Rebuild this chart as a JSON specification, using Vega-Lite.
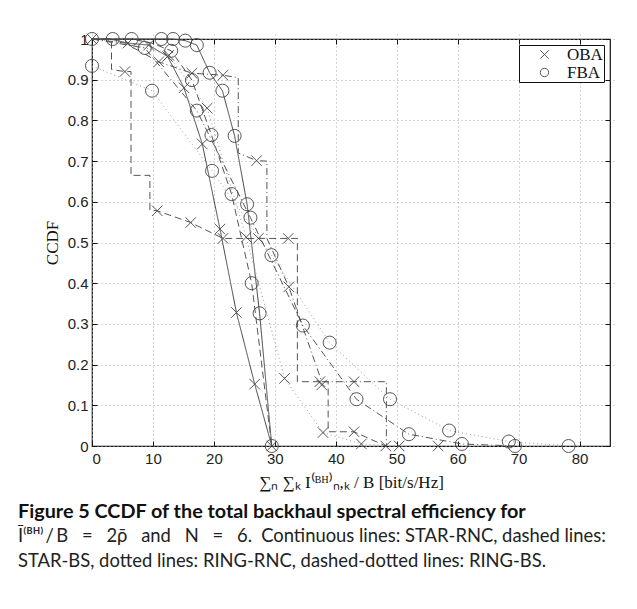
{
  "$schema": "https://vega.github.io/schema/vega-lite/v6.json",
  "autosize": "none",
  "width": 518,
  "height": 407,
  "padding": {"left": 92, "top": 39, "right": 27, "bottom": 163},
  "background": "white",
  "title": {
    "text": "Figure 5 CCDF of the total backhaul spectral efficiency for",
    "subtitle": ["Ī⁽ᴮᴴ⁾\u2009/\u2009B\u2003=\u20032ρ̄\u2003and\u2003N\u2003=\u20036.\u2002Continuous lines: STAR-RNC, dashed lines:", "STAR-BS, dotted lines: RING-RNC, dashed-dotted lines: RING-BS."],
    "orient": "bottom",
    "anchor": "start",
    "frame": "group",
    "dx": -74,
    "offset": 12,
    "font": "Lato",
    "fontSize": 19.8,
    "fontWeight": "bold",
    "color": "#111",
    "subtitleFont": "Lato",
    "subtitleFontSize": 18.4,
    "subtitleFontWeight": "normal",
    "subtitleColor": "#222",
    "subtitlePadding": 5,
    "subtitleLineHeight": 25
  },
  "config": {
    "view": {"stroke": "#111", "strokeWidth": 1.2},
    "axis": {
      "labelFont": "Liberation Sans",
      "labelFontSize": 15,
      "labelColor": "#222",
      "titleFont": "Liberation Serif",
      "titleFontSize": 17,
      "titleFontWeight": "normal",
      "titleColor": "#111",
      "gridColor": "#aaa",
      "gridDash": [1, 3],
      "gridWidth": 1,
      "tickColor": "#111",
      "tickSize": 5,
      "offset": -5,
      "domain": false
    }
  },
  "datasets": {
    "lines": [
      {"s": "STAR-RNC OBA", "style": "solid", "i": 0, "x": 0, "y": 1},
      {"s": "STAR-RNC OBA", "style": "solid", "i": 1, "x": 2.95, "y": 1},
      {"s": "STAR-RNC OBA", "style": "solid", "i": 2, "x": 5.9, "y": 0.99},
      {"s": "STAR-RNC OBA", "style": "solid", "i": 3, "x": 9.3, "y": 0.985},
      {"s": "STAR-RNC OBA", "style": "solid", "i": 4, "x": 12.4, "y": 0.957},
      {"s": "STAR-RNC OBA", "style": "solid", "i": 5, "x": 15.1, "y": 0.88},
      {"s": "STAR-RNC OBA", "style": "solid", "i": 6, "x": 18.1, "y": 0.742},
      {"s": "STAR-RNC OBA", "style": "solid", "i": 7, "x": 21.0, "y": 0.533},
      {"s": "STAR-RNC OBA", "style": "solid", "i": 8, "x": 23.7, "y": 0.328},
      {"s": "STAR-RNC OBA", "style": "solid", "i": 9, "x": 26.7, "y": 0.152},
      {"s": "STAR-RNC OBA", "style": "solid", "i": 10, "x": 29.5, "y": 0},

      {"s": "STAR-RNC FBA", "style": "solid", "i": 0, "x": 0, "y": 1},
      {"s": "STAR-RNC FBA", "style": "solid", "i": 1, "x": 11.4, "y": 1},
      {"s": "STAR-RNC FBA", "style": "solid", "i": 2, "x": 13.3, "y": 1},
      {"s": "STAR-RNC FBA", "style": "solid", "i": 3, "x": 15.3, "y": 0.996},
      {"s": "STAR-RNC FBA", "style": "solid", "i": 4, "x": 17.2, "y": 0.985},
      {"s": "STAR-RNC FBA", "style": "solid", "i": 5, "x": 19.3, "y": 0.917},
      {"s": "STAR-RNC FBA", "style": "solid", "i": 6, "x": 21.4, "y": 0.873},
      {"s": "STAR-RNC FBA", "style": "solid", "i": 7, "x": 23.4, "y": 0.762},
      {"s": "STAR-RNC FBA", "style": "solid", "i": 8, "x": 25.45, "y": 0.594},
      {"s": "STAR-RNC FBA", "style": "solid", "i": 9, "x": 27.5, "y": 0.326},
      {"s": "STAR-RNC FBA", "style": "solid", "i": 10, "x": 29.5, "y": 0},

      {"s": "STAR-BS OBA", "style": "dashed", "i": 0, "x": 0, "y": 1},
      {"s": "STAR-BS OBA", "style": "dashed", "i": 1, "x": 3.2, "y": 1},
      {"s": "STAR-BS OBA", "style": "dashed", "i": 2, "x": 3.2, "y": 0.925},
      {"s": "STAR-BS OBA", "style": "dashed", "i": 3, "x": 5.4, "y": 0.92},
      {"s": "STAR-BS OBA", "style": "dashed", "i": 4, "x": 6.4, "y": 0.92},
      {"s": "STAR-BS OBA", "style": "dashed", "i": 5, "x": 6.4, "y": 0.665},
      {"s": "STAR-BS OBA", "style": "dashed", "i": 6, "x": 9.5, "y": 0.665},
      {"s": "STAR-BS OBA", "style": "dashed", "i": 7, "x": 9.5, "y": 0.58},
      {"s": "STAR-BS OBA", "style": "dashed", "i": 8, "x": 10.7, "y": 0.578},
      {"s": "STAR-BS OBA", "style": "dashed", "i": 9, "x": 16.2, "y": 0.549},
      {"s": "STAR-BS OBA", "style": "dashed", "i": 10, "x": 21.5, "y": 0.51},
      {"s": "STAR-BS OBA", "style": "dashed", "i": 11, "x": 27.3, "y": 0.51},
      {"s": "STAR-BS OBA", "style": "dashed", "i": 12, "x": 32.2, "y": 0.51},
      {"s": "STAR-BS OBA", "style": "dashed", "i": 13, "x": 33.7, "y": 0.51},
      {"s": "STAR-BS OBA", "style": "dashed", "i": 14, "x": 33.7, "y": 0.158},
      {"s": "STAR-BS OBA", "style": "dashed", "i": 15, "x": 37.4, "y": 0.158},
      {"s": "STAR-BS OBA", "style": "dashed", "i": 16, "x": 38.75, "y": 0.158},
      {"s": "STAR-BS OBA", "style": "dashed", "i": 17, "x": 38.75, "y": 0.035},
      {"s": "STAR-BS OBA", "style": "dashed", "i": 18, "x": 43.0, "y": 0.035},
      {"s": "STAR-BS OBA", "style": "dashed", "i": 19, "x": 48.2, "y": 0},

      {"s": "STAR-BS FBA", "style": "dashed", "i": 0, "x": 0, "y": 1},
      {"s": "STAR-BS FBA", "style": "dashed", "i": 1, "x": 3.3, "y": 1},
      {"s": "STAR-BS FBA", "style": "dashed", "i": 2, "x": 6.5, "y": 1},
      {"s": "STAR-BS FBA", "style": "dashed", "i": 3, "x": 9.8, "y": 0.99},
      {"s": "STAR-BS FBA", "style": "dashed", "i": 4, "x": 13.0, "y": 0.971},
      {"s": "STAR-BS FBA", "style": "dashed", "i": 5, "x": 16.4, "y": 0.899},
      {"s": "STAR-BS FBA", "style": "dashed", "i": 6, "x": 19.6, "y": 0.764},
      {"s": "STAR-BS FBA", "style": "dashed", "i": 7, "x": 22.9, "y": 0.619},
      {"s": "STAR-BS FBA", "style": "dashed", "i": 8, "x": 26.2, "y": 0.40},
      {"s": "STAR-BS FBA", "style": "dashed", "i": 9, "x": 29.5, "y": 0},

      {"s": "RING-RNC OBA", "style": "dotted", "i": 0, "x": 0, "y": 1},
      {"s": "RING-RNC OBA", "style": "dotted", "i": 1, "x": 6.3, "y": 0.99},
      {"s": "RING-RNC OBA", "style": "dotted", "i": 2, "x": 12.6, "y": 0.96},
      {"s": "RING-RNC OBA", "style": "dotted", "i": 3, "x": 18.9, "y": 0.83},
      {"s": "RING-RNC OBA", "style": "dotted", "i": 4, "x": 25.3, "y": 0.513},
      {"s": "RING-RNC OBA", "style": "dotted", "i": 5, "x": 31.6, "y": 0.166},
      {"s": "RING-RNC OBA", "style": "dotted", "i": 6, "x": 37.9, "y": 0.033},
      {"s": "RING-RNC OBA", "style": "dotted", "i": 7, "x": 44.2, "y": 0.005},
      {"s": "RING-RNC OBA", "style": "dotted", "i": 8, "x": 50.4, "y": 0},
      {"s": "RING-RNC OBA", "style": "dotted", "i": 9, "x": 56.8, "y": 0},

      {"s": "RING-RNC FBA", "style": "dotted", "i": 0, "x": 0, "y": 0.934},
      {"s": "RING-RNC FBA", "style": "dotted", "i": 1, "x": 9.85, "y": 0.873},
      {"s": "RING-RNC FBA", "style": "dotted", "i": 2, "x": 19.7, "y": 0.676},
      {"s": "RING-RNC FBA", "style": "dotted", "i": 3, "x": 29.45, "y": 0.469},
      {"s": "RING-RNC FBA", "style": "dotted", "i": 4, "x": 39.0, "y": 0.254},
      {"s": "RING-RNC FBA", "style": "dotted", "i": 5, "x": 48.9, "y": 0.115},
      {"s": "RING-RNC FBA", "style": "dotted", "i": 6, "x": 58.6, "y": 0.038},
      {"s": "RING-RNC FBA", "style": "dotted", "i": 7, "x": 68.4, "y": 0.011},
      {"s": "RING-RNC FBA", "style": "dotted", "i": 8, "x": 78.2, "y": 0},

      {"s": "RING-BS OBA", "style": "dashdot", "i": 0, "x": 0, "y": 1},
      {"s": "RING-BS OBA", "style": "dashdot", "i": 1, "x": 5.4, "y": 0.99},
      {"s": "RING-BS OBA", "style": "dashdot", "i": 2, "x": 10.95, "y": 0.944},
      {"s": "RING-BS OBA", "style": "dashdot", "i": 3, "x": 16.4, "y": 0.916},
      {"s": "RING-BS OBA", "style": "dashdot", "i": 4, "x": 21.5, "y": 0.911},
      {"s": "RING-BS OBA", "style": "dashdot", "i": 5, "x": 24.0, "y": 0.905},
      {"s": "RING-BS OBA", "style": "dashdot", "i": 6, "x": 24.0, "y": 0.72},
      {"s": "RING-BS OBA", "style": "dashdot", "i": 7, "x": 27.0, "y": 0.701},
      {"s": "RING-BS OBA", "style": "dashdot", "i": 8, "x": 28.7, "y": 0.70},
      {"s": "RING-BS OBA", "style": "dashdot", "i": 9, "x": 28.7, "y": 0.51},
      {"s": "RING-BS OBA", "style": "dashdot", "i": 10, "x": 32.3, "y": 0.391},
      {"s": "RING-BS OBA", "style": "dashdot", "i": 11, "x": 37.7, "y": 0.158},
      {"s": "RING-BS OBA", "style": "dashdot", "i": 12, "x": 43.0, "y": 0.158},
      {"s": "RING-BS OBA", "style": "dashdot", "i": 13, "x": 48.3, "y": 0.158},
      {"s": "RING-BS OBA", "style": "dashdot", "i": 14, "x": 48.3, "y": 0},

      {"s": "RING-BS FBA", "style": "dashdot", "i": 0, "x": 0, "y": 1},
      {"s": "RING-BS FBA", "style": "dashdot", "i": 1, "x": 8.65, "y": 0.978},
      {"s": "RING-BS FBA", "style": "dashdot", "i": 2, "x": 17.2, "y": 0.824},
      {"s": "RING-BS FBA", "style": "dashdot", "i": 3, "x": 26.0, "y": 0.561},
      {"s": "RING-BS FBA", "style": "dashdot", "i": 4, "x": 34.6, "y": 0.296},
      {"s": "RING-BS FBA", "style": "dashdot", "i": 5, "x": 43.4, "y": 0.115},
      {"s": "RING-BS FBA", "style": "dashdot", "i": 6, "x": 52.0, "y": 0.029},
      {"s": "RING-BS FBA", "style": "dashdot", "i": 7, "x": 60.7, "y": 0.005},
      {"s": "RING-BS FBA", "style": "dashdot", "i": 8, "x": 69.4, "y": 0}
    ],
    "marks": [
      {"alloc": "OBA", "x": 0, "y": 1},
      {"alloc": "OBA", "x": 5.9, "y": 0.99},
      {"alloc": "OBA", "x": 9.3, "y": 0.985},
      {"alloc": "OBA", "x": 12.4, "y": 0.957},
      {"alloc": "OBA", "x": 15.1, "y": 0.88},
      {"alloc": "OBA", "x": 18.1, "y": 0.742},
      {"alloc": "OBA", "x": 21.0, "y": 0.533},
      {"alloc": "OBA", "x": 23.7, "y": 0.328},
      {"alloc": "OBA", "x": 26.7, "y": 0.152},
      {"alloc": "OBA", "x": 29.5, "y": 0},
      {"alloc": "OBA", "x": 5.4, "y": 0.92},
      {"alloc": "OBA", "x": 10.7, "y": 0.578},
      {"alloc": "OBA", "x": 16.2, "y": 0.549},
      {"alloc": "OBA", "x": 21.5, "y": 0.51},
      {"alloc": "OBA", "x": 27.3, "y": 0.51},
      {"alloc": "OBA", "x": 32.2, "y": 0.51},
      {"alloc": "OBA", "x": 37.4, "y": 0.158},
      {"alloc": "OBA", "x": 43.0, "y": 0.035},
      {"alloc": "OBA", "x": 48.2, "y": 0},
      {"alloc": "OBA", "x": 12.6, "y": 0.96},
      {"alloc": "OBA", "x": 18.9, "y": 0.83},
      {"alloc": "OBA", "x": 25.3, "y": 0.513},
      {"alloc": "OBA", "x": 31.6, "y": 0.166},
      {"alloc": "OBA", "x": 37.9, "y": 0.033},
      {"alloc": "OBA", "x": 44.2, "y": 0.005},
      {"alloc": "OBA", "x": 50.4, "y": 0},
      {"alloc": "OBA", "x": 56.8, "y": 0},
      {"alloc": "OBA", "x": 10.95, "y": 0.944},
      {"alloc": "OBA", "x": 16.4, "y": 0.916},
      {"alloc": "OBA", "x": 21.5, "y": 0.911},
      {"alloc": "OBA", "x": 27.0, "y": 0.701},
      {"alloc": "OBA", "x": 32.3, "y": 0.391},
      {"alloc": "OBA", "x": 37.7, "y": 0.15},
      {"alloc": "OBA", "x": 43.0, "y": 0.158},
      {"alloc": "FBA", "x": 0, "y": 1},
      {"alloc": "FBA", "x": 3.4, "y": 1},
      {"alloc": "FBA", "x": 6.5, "y": 1},
      {"alloc": "FBA", "x": 11.4, "y": 1},
      {"alloc": "FBA", "x": 13.3, "y": 1},
      {"alloc": "FBA", "x": 15.3, "y": 0.996},
      {"alloc": "FBA", "x": 17.2, "y": 0.985},
      {"alloc": "FBA", "x": 19.3, "y": 0.917},
      {"alloc": "FBA", "x": 21.4, "y": 0.873},
      {"alloc": "FBA", "x": 23.4, "y": 0.762},
      {"alloc": "FBA", "x": 25.45, "y": 0.594},
      {"alloc": "FBA", "x": 27.5, "y": 0.326},
      {"alloc": "FBA", "x": 29.5, "y": 0},
      {"alloc": "FBA", "x": 13.0, "y": 0.971},
      {"alloc": "FBA", "x": 16.4, "y": 0.899},
      {"alloc": "FBA", "x": 19.6, "y": 0.764},
      {"alloc": "FBA", "x": 22.9, "y": 0.619},
      {"alloc": "FBA", "x": 26.2, "y": 0.40},
      {"alloc": "FBA", "x": 0, "y": 0.934},
      {"alloc": "FBA", "x": 9.85, "y": 0.873},
      {"alloc": "FBA", "x": 19.7, "y": 0.676},
      {"alloc": "FBA", "x": 29.45, "y": 0.469},
      {"alloc": "FBA", "x": 39.0, "y": 0.254},
      {"alloc": "FBA", "x": 48.9, "y": 0.115},
      {"alloc": "FBA", "x": 58.6, "y": 0.038},
      {"alloc": "FBA", "x": 68.4, "y": 0.011},
      {"alloc": "FBA", "x": 78.2, "y": 0},
      {"alloc": "FBA", "x": 8.65, "y": 0.978},
      {"alloc": "FBA", "x": 17.2, "y": 0.824},
      {"alloc": "FBA", "x": 26.0, "y": 0.561},
      {"alloc": "FBA", "x": 34.6, "y": 0.296},
      {"alloc": "FBA", "x": 43.4, "y": 0.115},
      {"alloc": "FBA", "x": 52.0, "y": 0.029},
      {"alloc": "FBA", "x": 60.7, "y": 0.005},
      {"alloc": "FBA", "x": 69.4, "y": 0}
    ]
  },
  "layer": [
    {
      "data": {"name": "lines"},
      "mark": {"type": "line", "strokeWidth": 1},
      "encoding": {
        "x": {
          "field": "x", "type": "quantitative",
          "scale": {"domain": [0, 85], "nice": false, "zero": false},
          "axis": {
            "values": [0, 10, 20, 30, 40, 50, 60, 70, 80],
            "title": "∑ₙ ∑ₖ I⁽ᴮᴴ⁾ₙ,ₖ / B  [bit/s/Hz]",
            "labelPadding": 5,
            "titlePadding": 8
          }
        },
        "y": {
          "field": "y", "type": "quantitative",
          "scale": {"domain": [0, 1], "nice": false},
          "axis": {
            "values": [0, 0.1, 0.2, 0.3, 0.4, 0.5, 0.6, 0.7, 0.8, 0.9, 1],
            "format": ".1~f",
            "title": "CCDF",
            "labelPadding": 4,
            "titlePadding": 6
          }
        },
        "detail": {"field": "s"},
        "order": {"field": "i", "type": "quantitative"},
        "strokeDash": {
          "field": "style", "type": "nominal",
          "scale": {"domain": ["solid", "dashed", "dotted", "dashdot"], "range": [[1, 0], [7, 4], [1, 3], [7, 3, 1, 3]]},
          "legend": null
        },
        "color": {
          "field": "style", "type": "nominal",
          "scale": {"domain": ["solid", "dashed", "dotted", "dashdot"], "range": ["#444", "#555", "#999", "#555"]},
          "legend": null
        }
      }
    },
    {
      "data": {"name": "marks"},
      "mark": {"type": "point", "filled": false, "strokeWidth": 0.9, "opacity": 1},
      "encoding": {
        "x": {"field": "x", "type": "quantitative", "axis": {"orient": "top", "labels": false, "title": null, "grid": false, "values": [0, 10, 20, 30, 40, 50, 60, 70, 80]}},
        "y": {"field": "y", "type": "quantitative", "axis": {"orient": "right", "labels": false, "title": null, "grid": false, "values": [0, 0.1, 0.2, 0.3, 0.4, 0.5, 0.6, 0.7, 0.8, 0.9, 1]}},
        "shape": {
          "field": "alloc", "type": "nominal",
          "scale": {"domain": ["OBA", "FBA"], "range": ["M-1,-1L1,1M-1,1L1,-1", "circle"]},
          "legend": {
            "title": null,
            "orient": "top-right",
            "offset": 6,
            "fillColor": "white",
            "strokeColor": "#111",
            "padding": 1,
            "labelFont": "Liberation Serif",
            "labelFontSize": 17,
            "labelColor": "#111",
            "symbolSize": 70,
            "symbolOffset": 16,
            "symbolStrokeColor": "#444",
            "symbolStrokeWidth": 0.9,
            "symbolFillColor": "transparent",
            "rowPadding": 0,
            "labelOffset": 14
          }
        },
        "size": {"condition": {"test": "datum.alloc === 'FBA'", "value": 170}, "value": 110},
        "color": {"value": "#444"}
      }
    }
  ],
  "resolve": {"axis": {"x": "independent", "y": "independent"}}
}
